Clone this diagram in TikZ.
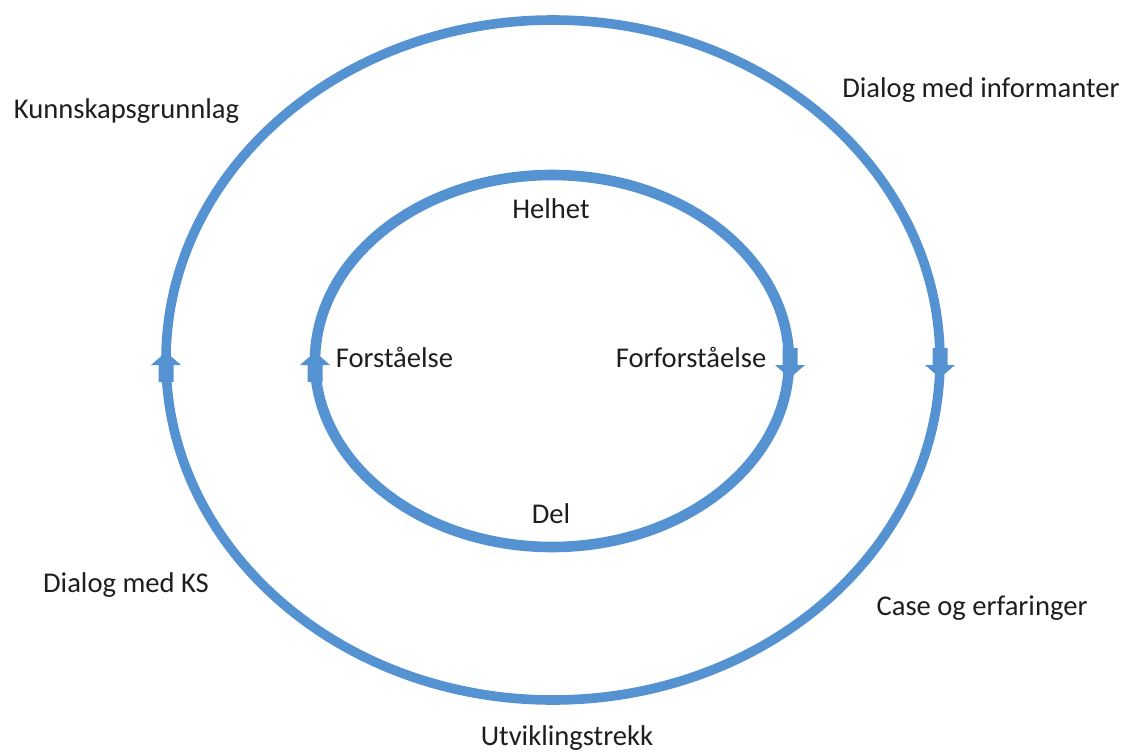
\documentclass[tikz,border=0pt]{standalone}
\usepackage{fontspec}
\setmainfont{Carlito}
\usepackage{tikz}

\definecolor{ringblue}{RGB}{84,146,210}
\definecolor{labelgray}{RGB}{30,30,30}

\tikzset{
  ring/.style={draw=ringblue,line width=#1},
  lbl/.style={anchor=base,text=labelgray,inner sep=0pt,font=\fontsize{14.3}{17}\selectfont},
}

% block arrow sitting on the ring, #3 = 1 points up, -1 points down
\newcommand{\ringtip}[3]{%
  \fill[ringblue,shift={(#1,#2)},yscale=#3] (0,-10) -- (15,3) -- (7.5,3) -- (7.5,20) -- (-7.5,20) -- (-7.5,3) -- (-15,3) -- cycle;}

\begin{document}
\begin{tikzpicture}[x=0.5pt,y=-0.5pt]
            \useasboundingbox (0,0) rectangle (1126,751);
            \draw [ring=4.8pt] (553,360) ellipse [x radius=387,y radius=340];
            \draw [ring=5.3pt] (552,361) ellipse [x radius=237,y radius=186];
            \ringtip{166}{362}{1}
            \ringtip{315}{362}{1}
            \ringtip{790}{368}{-1}
            \ringtip{940}{368}{-1}
            \node (kunnskap) at (126.5,118)[lbl]{Kunnskapsgrunnlag};
            \node (informanter) at (981,97)[lbl]{Dialog med informanter};
            \node (dialogks) at (126,592)[lbl]{Dialog med KS};
            \node (case) at (982,615)[lbl]{Case og erfaringer};
            \node (utvikling) at (567,745)[lbl]{Utviklingstrekk};
            \node (helhet) at (551,218)[lbl]{Helhet};
            \node (del) at (551,523)[lbl]{Del};
            \node (forstaelse) at (394.5,367)[lbl]{Forståelse};
            \node (forforstaelse) at (691,367)[lbl]{Forforståelse};
        \end{tikzpicture}
\end{document}
